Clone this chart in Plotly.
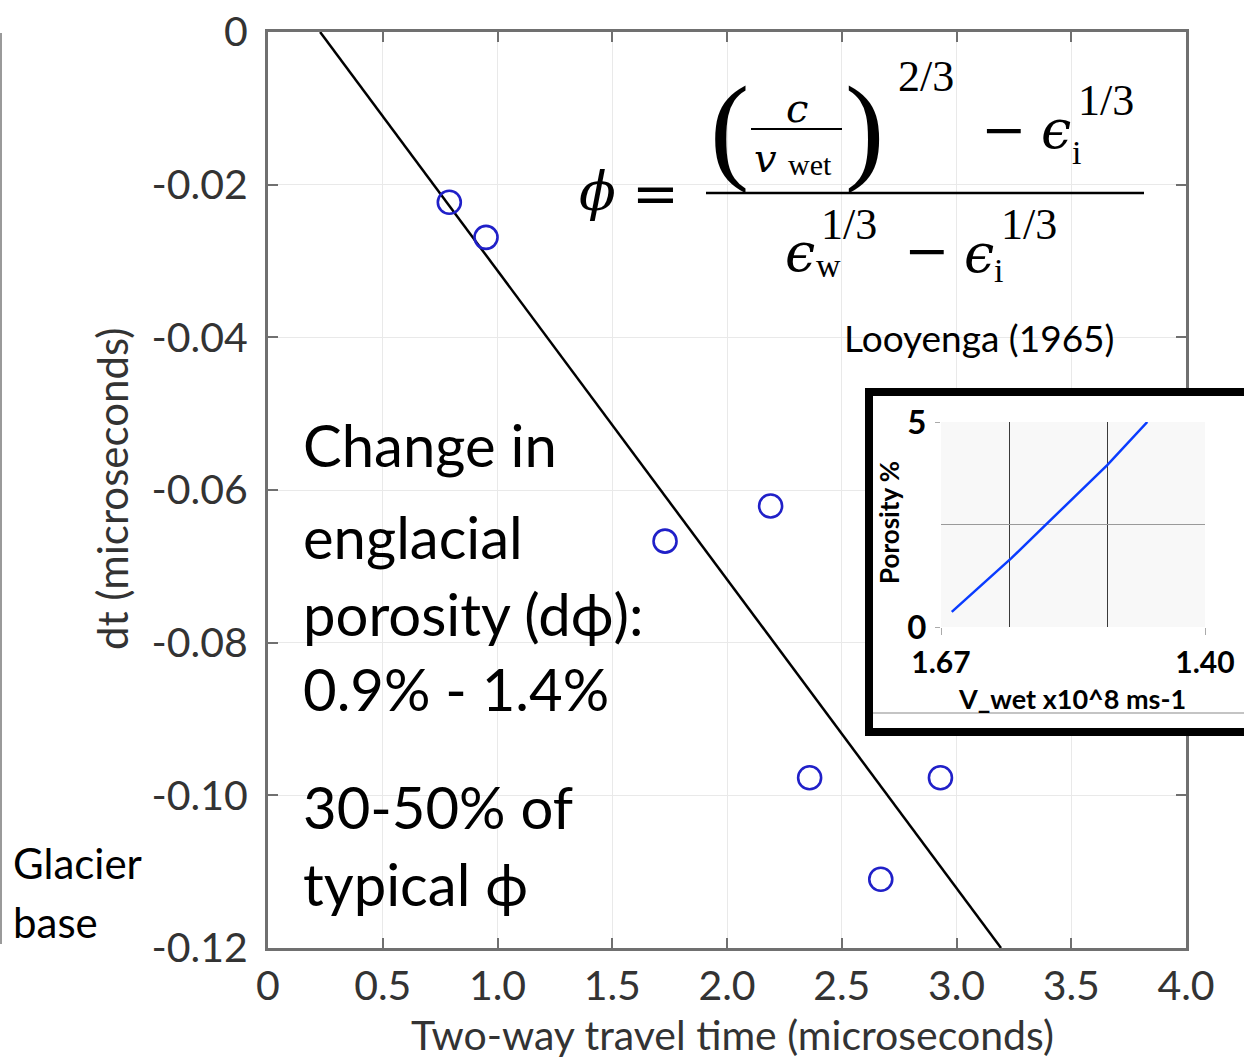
import plotly.graph_objects as go

W, H = 1244, 1058

# ---------------- data ----------------
twtt = [0.79, 0.95, 1.73, 2.19, 2.36, 2.67, 2.93]
dt = [-0.0223, -0.0269, -0.0667, -0.0621, -0.0977, -0.1110, -0.0977]
fit_x = [0.227, 3.194]
fit_y = [0.0, -0.12]
x_tickvals = [0, 0.5, 1.0, 1.5, 2.0, 2.5, 3.0, 3.5, 4.0]
x_ticktext = ["0", "0.5", "1.0", "1.5", "2.0", "2.5", "3.0", "3.5", "4.0"]
y_tickvals = [0, -0.02, -0.04, -0.06, -0.08, -0.10, -0.12]
y_ticktext = ["0", "-0.02", "-0.04", "-0.06", "-0.08", "-0.10", "-0.12"]

# inset (Looyenga porosity vs wet velocity)
v_wet = [1.659, 1.598, 1.563, 1.500, 1.459]
porosity = [0.37, 1.68, 2.49, 3.95, 5.0]
inset_x_ticks = [1.67, 1.40]
inset_x_ticktext = ["<b>1.67</b>", "<b>1.40</b>"]
inset_y_ticks = [0, 5]
inset_y_ticktext = ["<b>0</b>", "<b>5</b>"]
inset_x_grid = [1.6, 1.5]
inset_y_grid = [2.5, 5]


def px(x):
    return x / W


def py(y):
    return 1 - y / H


TICK_FONT = dict(family="Lato", size=41, color="#333333")
AX_COLOR = "#707070"
GRID = "#e9e9e9"

fig = go.Figure()

fig.add_trace(go.Scatter(x=fit_x, y=fit_y, mode="lines",
                         line=dict(color="black", width=2.5),
                         xaxis="x", yaxis="y", showlegend=False, hoverinfo="skip"))
fig.add_trace(go.Scatter(x=twtt, y=dt, mode="markers",
                         marker=dict(symbol="circle-open", size=23,
                                     line=dict(color="#2020c8", width=2.6),
                                     color="#2020c8"),
                         xaxis="x", yaxis="y", showlegend=False))

fig.add_trace(go.Scatter(x=v_wet, y=porosity, mode="lines",
                         line=dict(color="#0a3cff", width=2.5),
                         xaxis="x4", yaxis="y4", showlegend=False))

layout = dict(
    width=W, height=H,
    margin=dict(l=0, r=0, t=0, b=0),
    paper_bgcolor="white", plot_bgcolor="white",
    xaxis=dict(domain=[px(268), px(1186)], range=[0, 4], anchor="y",
               tickmode="array", tickvals=x_tickvals, ticktext=x_ticktext,
               ticks="inside", ticklen=10, tickwidth=2, tickcolor=AX_COLOR,
               showline=True, linecolor=AX_COLOR, linewidth=3, mirror="ticks",
               showgrid=True, gridcolor=GRID, gridwidth=1, zeroline=False,
               tickfont=TICK_FONT, ticklabelstandoff=0, automargin=False),
    yaxis=dict(domain=[py(948), py(32)], range=[-0.12, 0], anchor="x",
               tickmode="array", tickvals=y_tickvals, ticktext=y_ticktext,
               ticks="inside", ticklen=10, tickwidth=2, tickcolor=AX_COLOR,
               showline=True, linecolor=AX_COLOR, linewidth=3, mirror="ticks",
               showgrid=True, gridcolor=GRID, gridwidth=1, zeroline=False,
               tickfont=TICK_FONT, ticklabelstandoff=9, automargin=False),
    # frame subplot
    xaxis2=dict(domain=[px(873), 1.0], range=[0, 1], anchor="y2",
                showline=True, linecolor="black", linewidth=8, mirror=True,
                showgrid=False, zeroline=False, showticklabels=False, ticks=""),
    yaxis2=dict(domain=[py(728), py(396)], range=[0, 1], anchor="x2", side="left",
                showline=True, linecolor="black", linewidth=8, mirror=False,
                showgrid=False, zeroline=False, showticklabels=False, ticks=""),
    # inset plot
    xaxis4=dict(domain=[px(941), px(1205)], range=[1.67, 1.40], anchor="y4",
                tickmode="array", tickvals=inset_x_ticks, ticktext=inset_x_ticktext,
                ticks="outside", ticklen=7, tickwidth=1, tickcolor="#aaaaaa",
                showgrid=False, zeroline=False, showline=False,
                minor=dict(tickmode="array", tickvals=inset_x_grid, showgrid=True,
                           gridcolor="#3a3a3a", gridwidth=1.2, ticks=""),
                tickfont=dict(family="Lato", size=30, color="black"),
                ticklabelstandoff=2, automargin=False),
    yaxis4=dict(domain=[py(627), py(422)], range=[0, 5], anchor="x4",
                tickmode="array", tickvals=inset_y_ticks, ticktext=inset_y_ticktext,
                ticks="outside", ticklen=5, tickwidth=1, tickcolor="#aaaaaa",
                showgrid=False, zeroline=False, showline=False,
                minor=dict(tickmode="array", tickvals=inset_y_grid, showgrid=True,
                           gridcolor="#9a9a9a", gridwidth=1.2, ticks=""),
                tickfont=dict(family="Lato", size=33, color="black"),
                ticklabelstandoff=2, automargin=False),
)

shapes = [
    # frame white fill
    dict(type="rect", xref="x2", yref="y2", x0=0, x1=1, y0=0, y1=1, layer="below",
         fillcolor="white", line=dict(width=0)),
    # inset plotting area
    dict(type="rect", xref="x4", yref="y4", x0=1.67, x1=1.40, y0=0, y1=5, layer="below",
         fillcolor="#f8f8f8", line=dict(width=0)),
    # thin line near bottom of the frame
    dict(type="line", xref="paper", yref="paper", x0=px(873), x1=1.0, y0=py(713), y1=py(713),
         line=dict(color="#b0b0b0", width=1.5), layer="above"),
    # left slide border line
    dict(type="line", xref="paper", yref="paper", x0=px(1), x1=px(1), y0=py(33), y1=py(944),
         line=dict(color="#9a9a9a", width=2), layer="above"),
    # formula: main fraction bar
    dict(type="line", xref="paper", yref="paper", x0=px(706), x1=px(1144), y0=py(193), y1=py(193),
         line=dict(color="black", width=2.5), layer="above"),
    # formula: small fraction bar c / v_wet
    dict(type="line", xref="paper", yref="paper", x0=px(751), x1=px(842), y0=py(129), y1=py(129),
         line=dict(color="black", width=2), layer="above"),
]

annotations = []


def ann(text, x, y, size, family="Lato", color="black", xanchor="center",
        yanchor="middle", textangle=0):
    annotations.append(dict(text=text, x=px(x), y=py(y), xref="paper", yref="paper",
                            showarrow=False, xanchor=xanchor, yanchor=yanchor,
                            textangle=textangle,
                            font=dict(family=family, size=size, color=color)))


# axis titles
ann("Two-way travel time (microseconds)", 732, 1034, 41, color="#333333")
ann("dt (microseconds)", 112, 489, 42, color="#333333", textangle=-90)

# left-hand annotation text
BIG = "Lato"
ann("Change in", 301, 444, 58, family=BIG, xanchor="left")
ann("englacial", 301, 536, 58, family=BIG, xanchor="left")
ann("porosity (dϕ):", 301, 613, 58, family=BIG, xanchor="left")
ann("0.9% - 1.4%", 301, 688, 58, family=BIG, xanchor="left")
ann("30-50% of", 301, 806, 58, family=BIG, xanchor="left")
ann("typical ϕ", 301, 883, 58, family=BIG, xanchor="left")
ann("Glacier", 11, 863, 42, family=BIG, xanchor="left")
ann("base", 11, 922, 42, family=BIG, xanchor="left")

# formula (Looyenga 1965)
SER = "DejaVu Serif"
ann("<i>ϕ</i>", 597, 192, 54, family=SER)
ann("=", 656, 194, 56, family=SER)
ann("(", 729, 128, 118, family="Liberation Serif")
ann(")", 864, 128, 118, family="Liberation Serif")
ann("<i>c</i>", 797, 108, 40, family=SER)
ann("<i>v</i>", 766, 158, 40, family=SER)
ann("wet", 810, 164, 30, family="Liberation Serif")
ann("2/3", 926, 76, 44, family="Liberation Serif")
ann("−", 1003, 130, 54, family=SER)
ann("<i>ϵ</i>", 1056, 130, 54, family=SER)
ann("i", 1076, 152, 34, family="Liberation Serif")
ann("1/3", 1106, 100, 44, family="Liberation Serif")
ann("<i>ϵ</i>", 800, 252, 54, family=SER)
ann("w", 829, 266, 34, family="Liberation Serif")
ann("1/3", 849, 224, 44, family="Liberation Serif")
ann("−", 926, 250, 54, family=SER)
ann("<i>ϵ</i>", 979, 254, 54, family=SER)
ann("i", 998, 270, 34, family="Liberation Serif")
ann("1/3", 1029, 224, 44, family="Liberation Serif")
ann("Looyenga (1965)", 979, 338, 37, family=BIG)

# inset labels
ann("<b>V_wet x10^8 ms-1</b>", 1072, 698, 27, family=BIG)
ann("<b>Porosity %</b>", 889, 523, 26, family=BIG, textangle=-90)

layout["shapes"] = shapes
layout["annotations"] = annotations
fig.update_layout(**layout)

fig.write_html("out.html")
